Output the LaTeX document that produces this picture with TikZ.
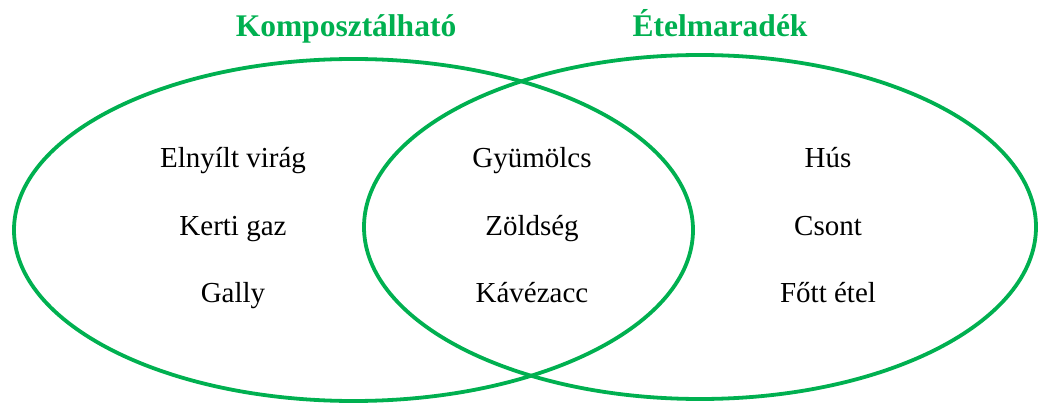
\documentclass[tikz,border=0pt]{standalone}
\usepackage{fontspec}
\setmainfont{Liberation Serif}
\definecolor{setgreen}{RGB}{0,176,80}

\begin{document}
\begin{tikzpicture}[x=1pt,y=1pt]
    \tikzstyle{SetStyle}=[draw = setgreen, line width = 3.8pt]
    \tikzstyle{TitleStyle}=[anchor = base, text = setgreen, font = \fontsize{31.5}{36}\selectfont\bfseries, inner sep = 0pt]
    \tikzstyle{ItemStyle}=[anchor = base, text = black, font = \fontsize{29}{34}\selectfont, inner sep = 0pt]
    \useasboundingbox (0,0) rectangle (1039,405);
    % the two sets
    \coordinate (K) at (353.5,175);
    \coordinate (E) at (700,178);
    \draw[SetStyle] (K) ellipse [x radius = 339.5, y radius = 171];
    \draw[SetStyle] (E) ellipse [x radius = 336, y radius = 172];
    % titles
    \node[TitleStyle] (tK) at (346,368) {Komposztálható};
    \node[TitleStyle] (tE) at (720,368) {Ételmaradék};
    % left only
    \node[ItemStyle] (l1) at (233,237) {Elnyílt virág};
    \node[ItemStyle] (l2) at (233,170) {Kerti gaz};
    \node[ItemStyle] (l3) at (233,103) {Gally};
    % both
    \node[ItemStyle] (m1) at (532,237) {Gyümölcs};
    \node[ItemStyle] (m2) at (532,170) {Zöldség};
    \node[ItemStyle] (m3) at (532,103) {Kávézacc};
    % right only
    \node[ItemStyle] (r1) at (828,237) {Hús};
    \node[ItemStyle] (r2) at (828,170) {Csont};
    \node[ItemStyle] (r3) at (828,103) {Főtt étel};
\end{tikzpicture}
\end{document}
